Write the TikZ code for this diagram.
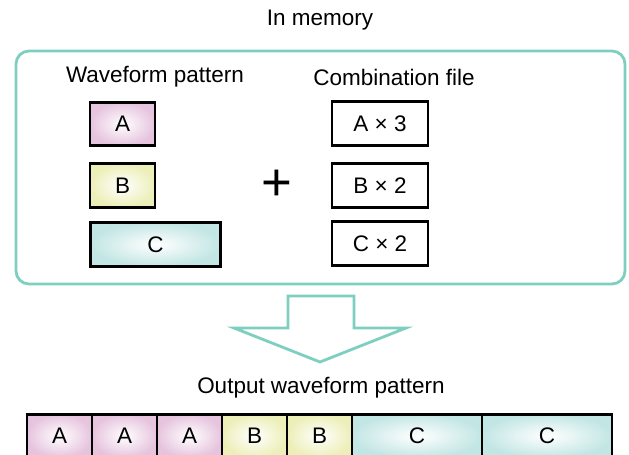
\documentclass[tikz,border=0pt]{standalone}
\usepackage{fontspec}
\setmainfont{Liberation Sans}
\usepackage{xcolor}
\usepackage{tikz}

\definecolor{memteal}{HTML}{7FCFC0}
\definecolor{pinkA}{HTML}{E6C4DE}
\definecolor{yellowB}{HTML}{ECEFB8}
\definecolor{tealC}{HTML}{C2E6E4}

\tikzset{
  cell/.style={draw=black, line width=1.6pt, inner sep=0pt, minimum height=0.87cm,
    font=\fontsize{12.8}{15}\selectfont},
  shortcell/.style={cell, minimum width=1.3cm},
  longcell/.style={cell, minimum width=2.6cm},
  pinkcell/.style={shade, inner color=white, outer color=pinkA},
  yellowcell/.style={shade, inner color=white, outer color=yellowB},
  tealcell/.style={shade, inner color=white, outer color=tealC},
  combocell/.style={cell, fill=white, minimum width=1.92cm},
  caption/.style={font=\fontsize{12.8}{15}\selectfont}
}

\begin{document}
\begin{tikzpicture}[x=0.02cm,y=-0.02cm]
  \clip (0,0) rectangle (629,455);
  \node[caption] (inmem) at (320,20) {In memory};
  \draw[memteal, line width=1.6pt, rounded corners=0.26cm] (16,51) rectangle (625,284);
  \node[caption] (wavetitle) at (155,77) {Waveform pattern};
  \node[caption] (combotitle) at (394,77) {Combination file};
  % waveform patterns
  \node[shortcell, pinkcell] (patA) at (122.5,124) {A};
  \node[shortcell, yellowcell] (patB) at (122.5,185.5) {B};
  \node[longcell, tealcell] (patC) at (155.5,244.5) {C};
  \node[font=\fontsize{30}{32}\selectfont] (plus) at (277,185) {+};
  % combination file
  \node[combocell] (comA) at (380,123.5) {A × 3};
  \node[combocell] (comB) at (380,185.5) {B × 2};
  \node[combocell] (comC) at (380,243.5) {C × 2};
  % arrow
  \draw[memteal, line width=1.6pt, fill=white] (288,296) -- (354,296) -- (354,328)
    -- (406,328) -- (320,362) -- (234,328) -- (288,328) -- cycle;
  \node[caption] (outtitle) at (321,388) {Output waveform pattern};
  % output sequence
  \node[shortcell, pinkcell] (outA1) at (59.5,436) {A};
  \node[shortcell, pinkcell] (outA2) at (124.5,436) {A};
  \node[shortcell, pinkcell] (outA3) at (189.5,436) {A};
  \node[shortcell, yellowcell] (outB1) at (254.5,436) {B};
  \node[shortcell, yellowcell] (outB2) at (319.5,436) {B};
  \node[longcell, tealcell] (outC1) at (417,436) {C};
  \node[longcell, tealcell] (outC2) at (547,436) {C};
\end{tikzpicture}
\end{document}
